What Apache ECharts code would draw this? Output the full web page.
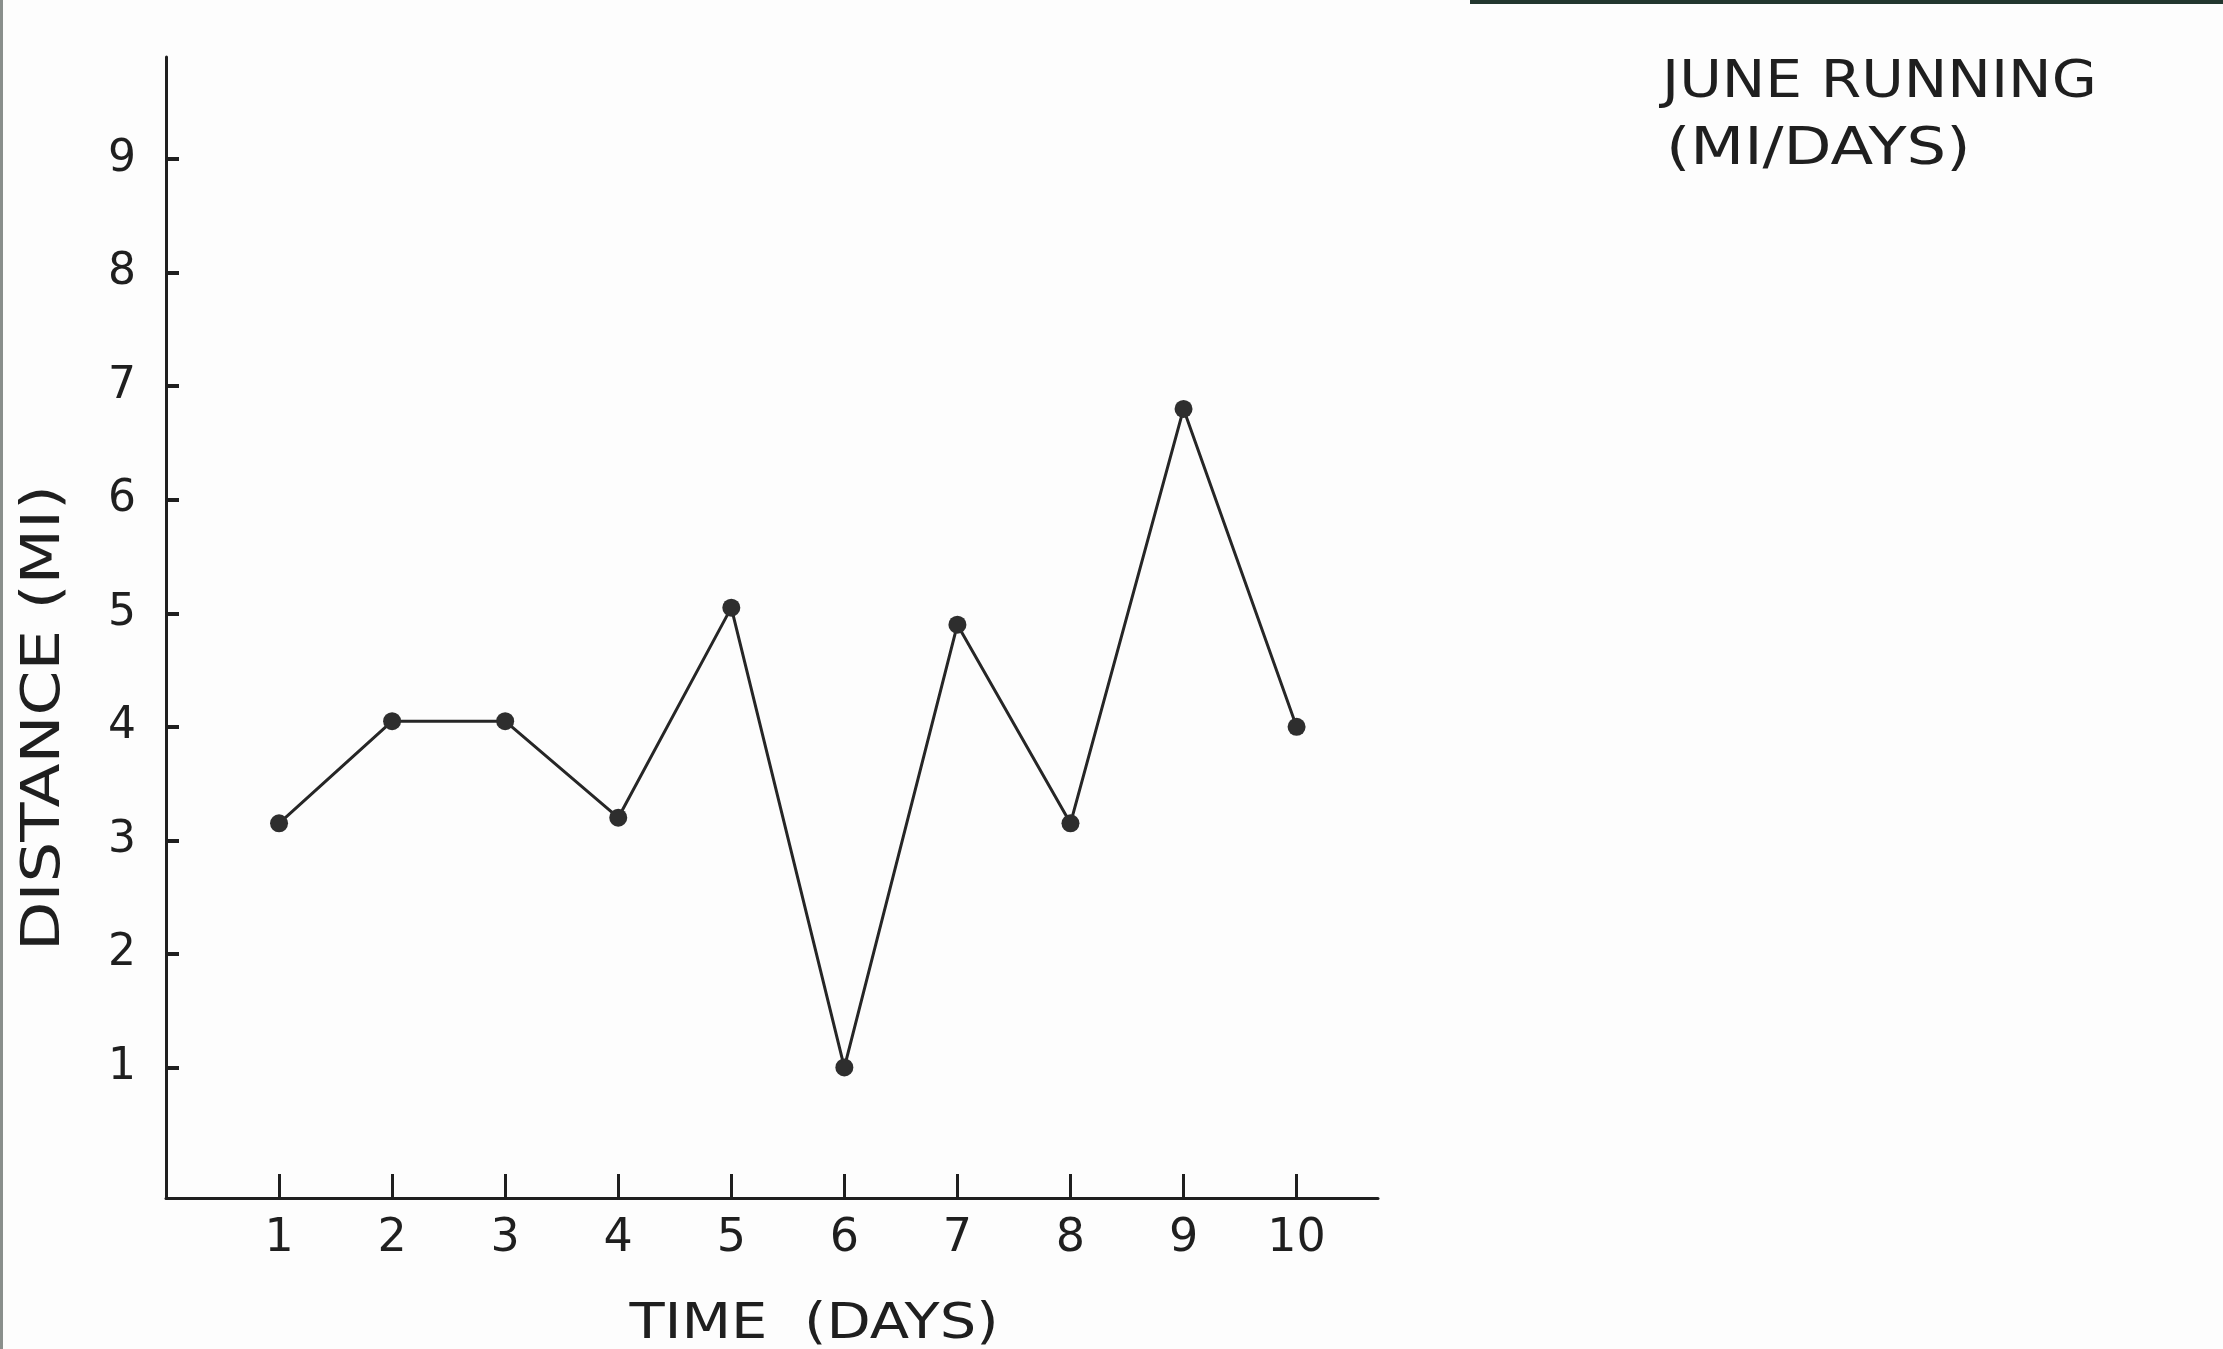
<!DOCTYPE html>
<html>
<head>
<meta charset="utf-8">
<script src="https://cdn.jsdelivr.net/npm/echarts@6/dist/echarts.min.js"></script>
<style>
html,body{margin:0;padding:0;background:#fdfdfd;}
#chart{width:2223px;height:1349px;}
</style>
</head>
<body>
<div id="chart"></div>
<script>
// Data
var days = [1, 2, 3, 4, 5, 6, 7, 8, 9, 10];
var distances = [3.15, 4.05, 4.05, 3.2, 5.05, 1.0, 4.9, 3.15, 6.8, 4.0];
var yTicks = [1, 2, 3, 4, 5, 6, 7, 8, 9];
var xTicks = [1, 2, 3, 4, 5, 6, 7, 8, 9, 10];
var titleLine1 = 'JUNE RUNNING';
var titleLine2 = '(MI/DAYS)';
var xName = 'TIME  (DAYS)';
var yName = 'DISTANCE (MI)';

var ink = '#1f1f1f';
var font = 'DejaVu Sans';

var chart = echarts.init(document.getElementById('chart'), null, {renderer: 'canvas'});
var points = days.map(function (d, i) { return [d, distances[i]]; });

chart.setOption({
  backgroundColor: '#fdfdfd',
  animation: false,
  grid: {left: 166, top: 57, right: 845, bottom: 151, containLabel: false},
  xAxis: {
    type: 'value',
    min: 0,
    max: 10.72,
    axisLine: {show: true, onZero: false, lineStyle: {color: ink, width: 3}},
    axisTick: {show: true, inside: true, length: 24, lineStyle: {color: ink, width: 3}, customValues: xTicks},
    axisLabel: {show: true, margin: 18, fontFamily: font, fontSize: 46, color: ink, customValues: xTicks},
    splitLine: {show: false}
  },
  yAxis: {
    type: 'value',
    min: -0.15,
    max: 9.9,
    axisLine: {show: true, onZero: false, lineStyle: {color: ink, width: 3}},
    axisTick: {show: true, inside: true, length: 13, lineStyle: {color: ink, width: 4}, customValues: yTicks},
    axisLabel: {show: true, margin: 30, fontFamily: font, fontSize: 44, color: ink, customValues: yTicks},
    splitLine: {show: false}
  },
  graphic: [
    {type: 'text', x: 1662, y: 83, scaleX: 1.12,
     style: {text: titleLine1, fontFamily: font, fontSize: 52, fill: ink, align: 'left', verticalAlign: 'middle'}},
    {type: 'text', x: 1666, y: 150, scaleX: 1.2,
     style: {text: titleLine2, fontFamily: font, fontSize: 52, fill: ink, align: 'left', verticalAlign: 'middle'}},
    {type: 'text', x: 45, y: 718, rotation: Math.PI / 2, scaleX: 1.19,
     style: {text: yName, fontFamily: font, fontSize: 54, fill: ink, align: 'center', verticalAlign: 'middle'}},
    {type: 'text', x: 814, y: 1325, scaleX: 1.15,
     style: {text: xName, fontFamily: font, fontSize: 50, fill: ink, align: 'center', verticalAlign: 'middle'}},
    {type: 'rect', shape: {x: 1470, y: 0, width: 753, height: 4}, style: {fill: '#23372f'}},
    {type: 'rect', shape: {x: 0, y: 0, width: 3, height: 1349}, style: {fill: '#8a8f8c'}}
  ],
  series: [{
    type: 'line',
    data: points,
    symbol: 'circle',
    symbolSize: 18,
    itemStyle: {color: '#2e2e2e'},
    lineStyle: {color: '#262626', width: 3}
  }]
});
</script>
</body>
</html>
